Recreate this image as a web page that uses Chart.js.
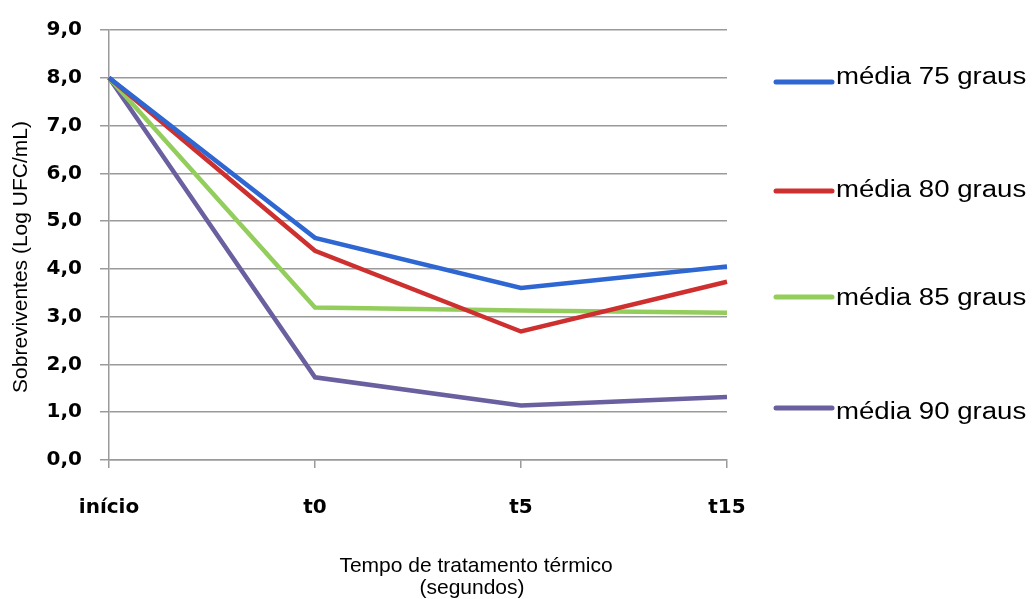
<!DOCTYPE html>
<html>
<head>
<meta charset="utf-8">
<script src="https://cdn.jsdelivr.net/npm/chart.js@4/dist/chart.umd.min.js"></script>
<style>
    body { margin: 0; background: #ffffff; }
    #wrap { width: 1032px; height: 599px; position: relative; }
</style>
</head>
<body>
<div id="wrap"><canvas id="survivalChart"></canvas></div>
<script>
// Categories (x axis)
const categories = ['início', 't0', 't5', 't15'];

// Series values (Log UFC/mL)
const media75 = [8.0, 4.65, 3.60, 4.05];
const media80 = [8.0, 4.38, 2.69, 3.73];
const media85 = [8.0, 3.19, 3.13, 3.08];
const media90 = [8.0, 1.73, 1.14, 1.32];

const seriesLabels = ['média 75 graus', 'média 80 graus', 'média 85 graus', 'média 90 graus'];
const seriesColors = ['#2f67d2', '#cd302f', '#93cd5c', '#6a5f9f'];

// Axis
const yMin = 0;
const yMax = 9;
const yStep = 1;
const yTitle = 'Sobreviventes (Log UFC/mL)';
const xTitle = ['Tempo de tratamento térmico', '(segundos)'];

// Legend layout (pixel positions of each entry's line)
const legendLineY = [82, 191, 297, 408];
const legendTextY = [84, 197, 305, 419];

const gridColor = '#9a9a9a';

// Draws the side legend and the axis titles where the original has them
const decorPlugin = {
    id: 'decor',
    afterDraw(chart) {
        const ctx = chart.ctx;

        // legend
        chart.data.datasets.forEach((ds, i) => {
            ctx.save();
            ctx.strokeStyle = ds.borderColor;
            ctx.lineWidth = 5;
            ctx.lineCap = 'round';
            ctx.beginPath();
            ctx.moveTo(776, legendLineY[i]);
            ctx.lineTo(832, legendLineY[i]);
            ctx.stroke();

            ctx.translate(836, legendTextY[i]);
            ctx.scale(1.2, 1);
            ctx.fillStyle = '#000000';
            ctx.font = '23px "Liberation Sans", Arial, sans-serif';
            ctx.textAlign = 'left';
            ctx.textBaseline = 'alphabetic';
            ctx.fillText(ds.label, 0, 0);
            ctx.restore();
        });

        // x axis title (two lines)
        ctx.save();
        ctx.fillStyle = '#000000';
        ctx.font = '21px "Liberation Sans", Arial, sans-serif';
        ctx.textAlign = 'center';
        ctx.textBaseline = 'alphabetic';
        ctx.fillText(xTitle[0], 476, 572);
        ctx.fillText(xTitle[1], 472, 594);
        ctx.restore();

        // y axis title (rotated)
        ctx.save();
        ctx.translate(27, 257);
        ctx.rotate(-Math.PI / 2);
        ctx.fillStyle = '#000000';
        ctx.font = '21px "Liberation Sans", Arial, sans-serif';
        ctx.textAlign = 'center';
        ctx.textBaseline = 'alphabetic';
        ctx.fillText(yTitle, 0, 0);
        ctx.restore();
    }
};

const allSeries = [media75, media80, media85, media90];

new Chart(document.getElementById('survivalChart'), {
    type: 'line',
    data: {
        labels: categories,
        datasets: allSeries.map((values, i) => ({
            label: seriesLabels[i],
            data: values,
            borderColor: seriesColors[i],
            backgroundColor: seriesColors[i],
            borderWidth: 4.5,
            pointRadius: 0,
            pointHoverRadius: 0,
            tension: 0,
            fill: false
        }))
    },
    options: {
        responsive: true,
        maintainAspectRatio: false,
        animation: false,
        layout: { padding: { top: 26, right: 305, left: 0, bottom: 0 } },
        plugins: {
            legend: { display: false },
            tooltip: { enabled: false }
        },
        scales: {
            x: {
                offset: false,
                grid: {
                    drawOnChartArea: false,
                    drawTicks: true,
                    tickLength: 8,
                    color: gridColor,
                    lineWidth: 1.5
                },
                border: { display: true, color: gridColor, width: 1.5 },
                ticks: {
                    color: '#000000',
                    padding: 28,
                    font: { family: '"DejaVu Sans", sans-serif', size: 20, weight: 'bold' }
                },
                afterFit(scale) { scale.height = 139; }
            },
            y: {
                min: yMin,
                max: yMax,
                grid: {
                    color: gridColor,
                    lineWidth: 1.5,
                    drawTicks: true,
                    tickLength: 9
                },
                border: { display: true, color: gridColor, width: 1.5 },
                ticks: {
                    stepSize: yStep,
                    color: '#000000',
                    padding: 18,
                    font: { family: '"DejaVu Sans", sans-serif', size: 20, weight: 'bold' },
                    callback: (v) => v.toFixed(1).replace('.', ',')
                },
                afterFit(scale) { scale.width = 109; }
            }
        }
    },
    plugins: [decorPlugin]
});
</script>
</body>
</html>
